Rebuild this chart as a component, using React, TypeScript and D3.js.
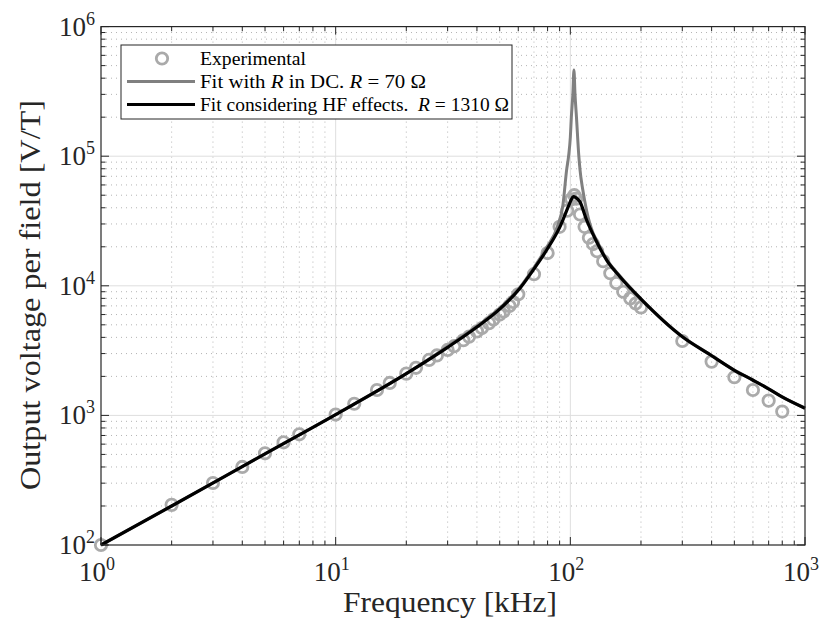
import React from "react";
import * as d3 from "d3";

// Experimental data (kHz, V/T)
const expFreq = [1, 2, 3, 4, 5, 6, 7, 10, 12, 15, 17, 20, 22, 25, 27, 30, 32, 35, 37, 40, 42, 45, 47, 50, 52, 55, 57, 60, 70, 80, 90, 97, 101, 104, 106, 110, 115, 120, 125, 130, 138, 148, 157, 168, 180, 190, 200, 300, 400, 500, 600, 700, 800];
const expVal = [100, 204, 301, 400, 510, 620, 715, 1015, 1230, 1570, 1780, 2100, 2330, 2680, 2900, 3200, 3420, 3800, 4050, 4450, 4720, 5150, 5500, 6000, 6350, 7000, 7500, 8600, 12300, 17900, 28500, 38000, 46500, 50000, 47000, 35500, 28500, 23500, 21000, 18500, 15500, 12500, 10500, 9000, 8000, 7300, 6800, 3750, 2600, 1970, 1570, 1300, 1070];

// Fit with R in DC (R = 70 Ω)
const grayFreq = [1, 2, 5, 10, 20, 30, 40, 50, 61, 69.5, 79.3, 88, 93, 96.4, 98.3, 100, 101, 102.5, 103.6, 104.7, 106.2, 108.7, 110, 113, 117.3, 125, 129.4, 142.8, 162.7, 200, 300, 396, 498, 598, 693, 795, 1000];
const grayVal = [100, 200, 505, 1015, 2100, 3400, 4870, 6700, 9750, 13600, 19800, 28500, 42000, 78000, 100000, 140000, 200000, 300000, 462000, 300000, 200000, 100000, 78000, 55000, 38000, 25500, 22500, 16000, 11900, 7950, 4070, 2930, 2245, 1880, 1622, 1396, 1137];

// Fit considering HF effects (R = 1310 Ω)
const blackFreq = [1, 2, 5, 10, 20, 30, 40, 50, 61, 69.5, 79.3, 90.4, 98, 100.5, 102.9, 105.5, 109.8, 117.3, 129.4, 142.8, 162.7, 200, 300, 396, 498, 598, 693, 795, 1000];
const blackVal = [100, 200, 505, 1015, 2100, 3350, 4810, 6600, 9570, 13240, 18900, 28600, 40800, 45500, 48700, 48000, 44560, 32200, 21900, 15800, 11760, 7900, 4050, 2924, 2240, 1876, 1619, 1394, 1135];

const xMajor = [1, 10, 100, 1000];
const xMajorExp = ["0", "1", "2", "3"];
const yMajor = [1e2, 1e3, 1e4, 1e5, 1e6];
const yMajorExp = ["2", "3", "4", "5", "6"];

const legendLabels = ["Experimental", "Fit with ", "Fit considering HF effects.  "];

const FONT = "'Liberation Serif', 'DejaVu Serif', serif";
const TXT = "#262626";

export default function App() {
  const W = 823, H = 624;
  const L = 101, R = 805, T = 26.6, B = 545;
  const x = d3.scaleLog().domain([1, 1000]).range([L, R]);
  const y = d3.scaleLog().domain([100, 1e6]).range([B, T]);

  const minorX: number[] = [];
  for (let k = 0; k < 3; k++) for (let m = 2; m <= 9; m++) minorX.push(m * Math.pow(10, k));
  const minorY: number[] = [];
  for (let k = 2; k < 6; k++) for (let m = 2; m <= 9; m++) minorY.push(m * Math.pow(10, k));

  const line = d3
    .line<[number, number]>()
    .x((d) => x(d[0]))
    .y((d) => y(d[1]))
    .curve(d3.curveMonotoneX);

  const grayPts = grayFreq.map((f, i) => [f, grayVal[i]] as [number, number]);
  const blackPts = blackFreq.map((f, i) => [f, blackVal[i]] as [number, number]);

  const legX = 121, legY = 45, legW = 391, legH = 74;
  const rowY = [58.5, 81.5, 104.5];

  return (
    <svg width={W} height={H} style={{ position: "absolute", left: 0, top: 0, background: "#fff" }} fontFamily={FONT}>
      <rect x={0} y={0} width={W} height={H} fill="#fff" />
      {/* minor grid */}
      <g stroke="#b4b4b4" strokeWidth={1} strokeDasharray="1,4">
        {minorX.map((v) => (
          <line key={"mx" + v} x1={x(v)} x2={x(v)} y1={T} y2={B} />
        ))}
        {minorY.map((v) => (
          <line key={"my" + v} y1={y(v)} y2={y(v)} x1={L} x2={R} />
        ))}
      </g>
      {/* major grid */}
      <g stroke="#dedede" strokeWidth={1}>
        {xMajor.slice(1, -1).map((v) => (
          <line key={"Mx" + v} x1={x(v)} x2={x(v)} y1={T} y2={B} />
        ))}
        {yMajor.slice(1, -1).map((v) => (
          <line key={"My" + v} y1={y(v)} y2={y(v)} x1={L} x2={R} />
        ))}
      </g>

      {/* experimental circles */}
      <g fill="none" stroke="#aaaaaa" strokeWidth={2.8}>
        {expFreq.map((f, i) => (
          <circle key={"c" + i} cx={x(f)} cy={y(expVal[i])} r={5.7} />
        ))}
      </g>
      <path d={line(grayPts) || ""} fill="none" stroke="#808080" strokeWidth={3} strokeLinejoin="round" />
      <path d={line(blackPts) || ""} fill="none" stroke="#000" strokeWidth={3.2} strokeLinejoin="round" />

      {/* axes box */}
      <rect x={L} y={T} width={R - L} height={B - T} fill="none" stroke={TXT} strokeWidth={1.2} />
      {/* ticks */}
      <g stroke={TXT} strokeWidth={1}>
        {xMajor.map((v) => (
          <g key={"tx" + v}>
            <line x1={x(v)} x2={x(v)} y1={B} y2={B - 8} />
            <line x1={x(v)} x2={x(v)} y1={T} y2={T + 8} />
          </g>
        ))}
        {minorX.map((v) => (
          <g key={"tmx" + v}>
            <line x1={x(v)} x2={x(v)} y1={B} y2={B - 4.5} />
            <line x1={x(v)} x2={x(v)} y1={T} y2={T + 4.5} />
          </g>
        ))}
        {yMajor.map((v) => (
          <g key={"ty" + v}>
            <line y1={y(v)} y2={y(v)} x1={L} x2={L + 8} />
            <line y1={y(v)} y2={y(v)} x1={R} x2={R - 8} />
          </g>
        ))}
        {minorY.map((v) => (
          <g key={"tmy" + v}>
            <line y1={y(v)} y2={y(v)} x1={L} x2={L + 4.5} />
            <line y1={y(v)} y2={y(v)} x1={R} x2={R - 4.5} />
          </g>
        ))}
      </g>

      {/* x tick labels */}
      <g fill={TXT} fontSize={27}>
        {xMajor.map((v, i) => (
          <text key={"xl" + v} x={x(v) - 4} y={581} textAnchor="middle">
            10
            <tspan fontSize={18} dy={-11}>{xMajorExp[i]}</tspan>
          </text>
        ))}
      </g>
      {/* y tick labels */}
      <g fill={TXT} fontSize={27}>
        {yMajor.map((v, i) => (
          <text key={"yl" + v} x={95} y={y(v) + 9} textAnchor="end">
            10
            <tspan fontSize={18} dy={-11}>{yMajorExp[i]}</tspan>
          </text>
        ))}
      </g>

      {/* axis labels */}
      <text x={450} y={612} textAnchor="middle" fontSize={30} fill={TXT} textLength={214} lengthAdjust="spacingAndGlyphs">
        Frequency [kHz]
      </text>
      <text transform={`translate(40,295) rotate(-90)`} textAnchor="middle" fontSize={30} fill={TXT} textLength={390} lengthAdjust="spacingAndGlyphs">
        Output voltage per field [V/T]
      </text>

      {/* legend */}
      <rect x={legX} y={legY} width={legW} height={legH} fill="#fff" stroke={TXT} strokeWidth={1} />
      <circle cx={162} cy={rowY[0]} r={5.7} fill="none" stroke="#aaaaaa" strokeWidth={2.8} />
      <line x1={127} x2={195} y1={rowY[1]} y2={rowY[1]} stroke="#808080" strokeWidth={3} />
      <line x1={127} x2={195} y1={rowY[2]} y2={rowY[2]} stroke="#000" strokeWidth={3.2} />
      <g fontSize={19.5} fill="#000">
        <text x={200} y={rowY[0] + 6.5} textLength={106} lengthAdjust="spacingAndGlyphs">{legendLabels[0]}</text>
        <text x={200} y={rowY[1] + 6.5} textLength={226} lengthAdjust="spacingAndGlyphs">
          {legendLabels[1]}
          <tspan fontStyle="italic">R</tspan> in DC.  <tspan fontStyle="italic">R</tspan> = 70 Ω
        </text>
        <text x={200} y={rowY[2] + 6.5} xmlSpace="preserve" textLength={309} lengthAdjust="spacingAndGlyphs">
          {legendLabels[2]}
          <tspan fontStyle="italic">R</tspan> = 1310 Ω
        </text>
      </g>
    </svg>
  );
}
